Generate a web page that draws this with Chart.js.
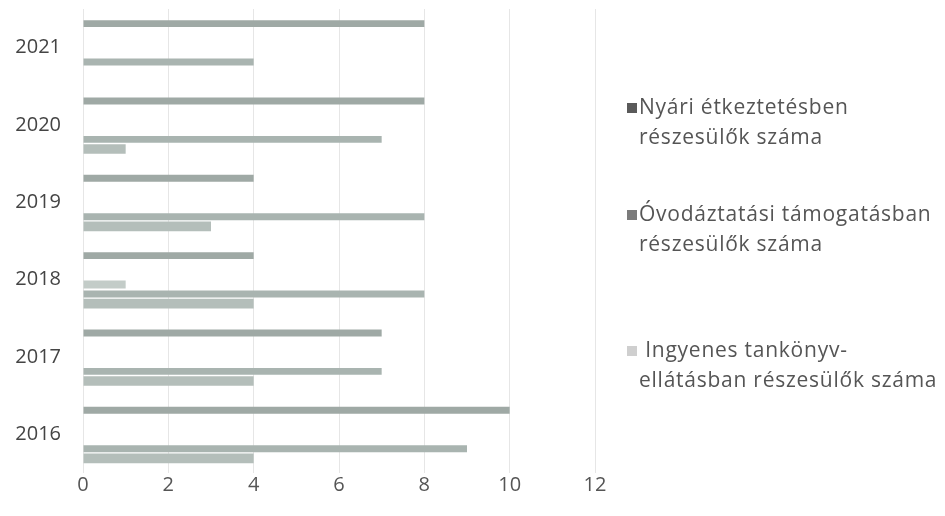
<!DOCTYPE html>
<html>
<head>
<meta charset="utf-8">
<script src="https://cdn.jsdelivr.net/npm/chart.js@4.4.1/dist/chart.umd.min.js"></script>
<style>
    html, body { margin: 0; padding: 0; background: #fff; }
    #wrap { position: relative; width: 945px; height: 516px; overflow: hidden; }
    #chart-box { position: absolute; left: 0; top: 0; width: 945px; height: 516px; }
    .legend-item { position: absolute; left: 627px; font-family: 'Open Sans', sans-serif; font-size: 21px; letter-spacing: 0.75px; line-height: 30px; color: #555; white-space: nowrap; }
    .legend-item .mark { display: inline-block; width: 10px; height: 10px; margin-right: 2px; vertical-align: 1px; }
    .legend-item .line2 { padding-left: 12px; }
</style>
</head>
<body>
<div id="wrap">
    <div id="chart-box"><canvas id="chart"></canvas></div>
</div>
<script>
// years, top to bottom as in the picture
const years = ['2021', '2020', '2019', '2018', '2017', '2016'];
const nyari = [8, 8, 4, 4, 7, 10];
const ovoda = [4, 7, 8, 8, 7, 9];
const tankonyv = [null, 1, 3, 4, 4, 4];
// stray short bar visible in the 2018 group (unlabelled in the legend)
const extra = [null, null, null, 1, null, null];
const xTicks = [0, 2, 4, 6, 8, 10, 12];

const seriesNames = [
    ['Nyári étkeztetésben', 'részesülők száma'],
    ['Óvodáztatási támogatásban', 'részesülők száma'],
    [' Ingyenes tankönyv-', 'ellátásban részesülők száma']
];
const seriesColors = ['#9fa9a5', '#a9b4b0', '#b4beba'];
const markColors = ['#5a5a5a', '#7b7b7b', '#cfcfcf'];

// html legend
const legendTops = [91, 198, 334];
seriesNames.forEach((lines, i) => {
    const el = document.createElement('div');
    el.className = 'legend-item';
    el.style.top = legendTops[i] + 'px';
    const mark = `<span class="mark" style="background:${markColors[i]}"></span>`;
    el.innerHTML = `<div>${mark}${lines[0]}</div><div class="line2">${lines[1]}</div>`;
    document.getElementById('wrap').appendChild(el);
});

const spacer = () => ({ label: '', data: [], backgroundColor: 'transparent', barPercentage: 0.75 });

new Chart(document.getElementById('chart'), {
    type: 'bar',
    data: {
        labels: years,
        datasets: [
            { label: seriesNames[0].join(' '), data: nyari, backgroundColor: seriesColors[0], barPercentage: 0.72 },
            spacer(),
            spacer(),
            { label: '', data: extra, backgroundColor: '#c3ccc8', barPercentage: 0.85 },
            { label: seriesNames[1].join(' '), data: ovoda, backgroundColor: seriesColors[1], barPercentage: 0.72 },
            { label: seriesNames[2].join(' '), data: tankonyv, backgroundColor: seriesColors[2], barPercentage: 1.0 }
        ]
    },
    options: {
        indexAxis: 'y',
        responsive: true,
        maintainAspectRatio: false,
        animation: false,
        layout: { padding: { top: 9, right: 350, bottom: 0, left: 0 } },
        datasets: { bar: { categoryPercentage: 0.745 } },
        plugins: { legend: { display: false }, tooltip: { enabled: false } },
        scales: {
            x: {
                min: 0,
                max: 12,
                afterBuildTicks: s => { s.ticks = xTicks.map(v => ({ value: v })); },
                afterFit: s => { s.height = 43; s.paddingLeft = 0; s.paddingRight = 0; },
                grid: { color: '#e6e6e6', drawTicks: false },
                border: { display: false },
                ticks: { color: '#555', padding: 0, font: { family: 'Open Sans', size: 20 } }
            },
            y: {
                afterFit: s => { s.width = 83; s.paddingTop = 0; s.paddingBottom = 0; },
                grid: { display: false, drawTicks: false },
                border: { display: false },
                ticks: { color: '#444', padding: 22, font: { family: 'Open Sans', size: 20 } }
            }
        }
    }
});
</script>
</body>
</html>
